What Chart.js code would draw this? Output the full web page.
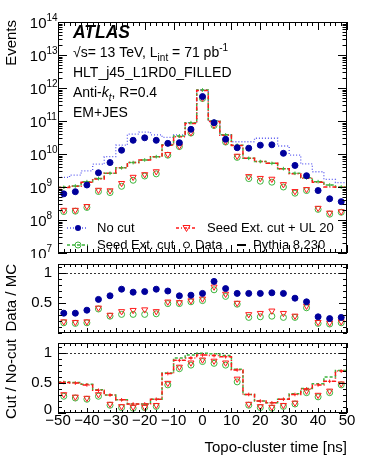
<!DOCTYPE html>
<html>
<head>
<meta charset="utf-8">
<script src="https://cdn.jsdelivr.net/npm/chart.js@4/dist/chart.umd.min.js"></script>
<style>
  body { margin: 0; background: #fff; }
  #wrap { position: relative; width: 366px; height: 474px; }
  canvas { position: absolute; left: 0; }
</style>
</head>
<body>
<div id="wrap">
  <canvas id="topChart" width="366" height="258" style="top:0px"></canvas>
  <canvas id="midChart" width="366" height="80" style="top:258px"></canvas>
  <canvas id="botChart" width="366" height="136" style="top:338px"></canvas>
</div>
<script>
'use strict';

// data -----------------------------------------------------------------------
let binEdges = [-50, -46, -42, -38, -34, -30, -26, -22, -18, -14, -10, -6, -2, 2, 6, 10, 14, 18, 22, 26, 30, 34, 38, 42, 46, 50];
let binCenters = [-48, -44, -40, -36, -32, -28, -24, -20, -16, -12, -8, -4, 0, 4, 8, 12, 16, 20, 24, 28, 32, 36, 40, 44, 48];

// events, data points
let noCutData = [6.2e8, 7.2e8, 1.15e9, 2.7e9, 5.5e9, 1.3e10, 2.6e10, 3.1e10, 2.6e10, 2.1e10, 2.2e10, 5.6e10, 5.5e11,
  8.9e10, 2.8e10, 1.55e10, 1.5e10, 1.85e10, 1.9e10, 1.05e10, 4.5e9, 2.2e9, 7.8e8, 4.4e8, 3.6e8];
let seedData = [1.8e8, 1.85e8, 2.4e8, 7.3e8, 6.8e8, 1.05e9, 1.6e9, 2.15e9, 2.5e9, 9.2e9, 1.68e10, 4.3e10, 4.8e11,
  7.3e10, 2.3e10, 7.9e9, 1.8e9, 1.5e9, 1.4e9, 1.0e9, 6.5e8, 7.8e8, 2.1e8, 1.5e8, 1.72e8];
let ul20Data = [2.0e8, 2.0e8, 2.6e8, 8.1e8, 7.8e8, 1.3e9, 2.0e9, 2.4e9, 2.95e9, 9.8e9, 1.75e10, 4.5e10, 5.0e11,
  7.6e10, 2.4e10, 8.7e9, 2.1e9, 1.85e9, 1.75e9, 1.2e9, 7.4e8, 8.5e8, 2.3e8, 1.65e8, 1.8e8];

// events, Pythia 8.230 (one value per bin)
let noCutMC = [1.95e9, 2.3e9, 3.1e9, 4.9e9, 8.3e9, 1.85e10, 4.0e10, 4.6e10, 3.8e10, 3.2e10, 3.8e10, 8.9e10, 8.7e11,
  1.02e11, 3.8e10, 2.35e10, 2.35e10, 3.0e10, 3.0e10, 1.75e10, 9.3e9, 5.0e9, 2.9e9, 1.7e9, 1.35e9];
let seedMC = [9.8e8, 1.07e9, 1.45e9, 1.8e9, 2.6e9, 3.8e9, 5.5e9, 6.6e9, 8.3e9, 1.9e10, 3.5e10, 8.9e10, 8.7e11,
  1.0e11, 3.8e10, 1.85e10, 7.4e9, 5.9e9, 5.2e9, 3.6e9, 2.6e9, 1.9e9, 1.45e9, 1.15e9, 1.0e9];
let ul20MC = [9.6e8, 1.05e9, 1.4e9, 1.75e9, 2.6e9, 3.8e9, 5.5e9, 6.6e9, 8.3e9, 1.85e10, 3.35e10, 8.4e10, 8.4e11,
  9.7e10, 3.7e10, 1.8e10, 7.4e9, 5.9e9, 5.2e9, 3.6e9, 2.5e9, 1.85e9, 1.4e9, 1.0e9, 9.8e8];

// data / MC
let noCutRatio = [0.33, 0.33, 0.38, 0.56, 0.62, 0.73, 0.68, 0.69, 0.73, 0.70, 0.62, 0.63, 0.66,
  0.86, 0.74, 0.66, 0.66, 0.66, 0.67, 0.66, 0.58, 0.52, 0.27, 0.24, 0.26];
let seedRatio = [0.17, 0.16, 0.17, 0.40, 0.28, 0.31, 0.31, 0.31, 0.32, 0.49, 0.49, 0.52, 0.54,
  0.72, 0.61, 0.48, 0.26, 0.27, 0.28, 0.26, 0.26, 0.42, 0.16, 0.15, 0.17];
let ul20Ratio = [0.19, 0.18, 0.19, 0.42, 0.30, 0.36, 0.38, 0.39, 0.36, 0.52, 0.51, 0.54, 0.57,
  0.77, 0.65, 0.50, 0.31, 0.33, 0.37, 0.33, 0.285, 0.45, 0.18, 0.17, 0.19];

// cut / no-cut
let seedFrac = [0.28, 0.25, 0.23, 0.28, 0.13, 0.09, 0.08, 0.09, 0.11, 0.47, 0.74, 0.80, 0.86,
  0.83, 0.80, 0.52, 0.13, 0.09, 0.08, 0.11, 0.15, 0.34, 0.27, 0.34, 0.47];
let ul20Frac = [0.31, 0.27, 0.25, 0.31, 0.15, 0.11, 0.10, 0.10, 0.13, 0.50, 0.77, 0.84, 0.89,
  0.87, 0.84, 0.57, 0.15, 0.11, 0.10, 0.13, 0.17, 0.37, 0.30, 0.37, 0.49];
let seedFracMC = [0.52, 0.51, 0.48, 0.39, 0.30, 0.22, 0.15, 0.15, 0.23, 0.67, 0.92, 0.97, 1.0,
  0.99, 0.96, 0.73, 0.31, 0.20, 0.17, 0.23, 0.32, 0.41, 0.49, 0.60, 0.71];
let ul20FracMC = [0.51, 0.50, 0.47, 0.38, 0.30, 0.22, 0.15, 0.15, 0.23, 0.66, 0.88, 0.92, 0.97,
  0.96, 0.94, 0.72, 0.31, 0.20, 0.17, 0.23, 0.31, 0.40, 0.47, 0.53, 0.70];

// tick labels
let xMajorTicks = [-50, -40, -30, -20, -10, 0, 10, 20, 30, 40, 50];
let xTickLabels = ['\u221250', '\u221240', '\u221230', '\u221220', '\u221210', '0', '10', '20', '30', '40', '50'];
let logDecades = [7, 8, 9, 10, 11, 12, 13, 14];
let midTicks = [0.5, 1];
let midTickLabels = ['0.5', '1'];
let botTicks = [0, 0.5, 1];
let botTickLabels = ['0', '0.5', '1'];

// styles ---------------------------------------------------------------------
const FONT = '"Liberation Sans", Arial, Helvetica, sans-serif';
const BLUE_PT = '#00009c';
const BLUE_LN = '#5a5af0';
const GREEN = '#3cb43c';
const RED = '#ff1a1a';

function steps(vals) {
  return binEdges.map((e, i) => ({ x: e, y: vals[Math.min(i, vals.length - 1)] }));
}
function points(vals) {
  return binCenters.map((c, i) => ({ x: c, y: vals[i] }));
}

function stepSet(vals, color, dash, width) {
  return { data: steps(vals), showLine: true, stepped: true, borderColor: color, borderDash: dash,
    borderWidth: width, pointRadius: 0, fill: false };
}
function pointSet(vals, style, color, fillColor, radius, rotation) {
  return { data: points(vals), showLine: false, pointStyle: style, pointRadius: radius,
    pointBorderColor: color, pointBackgroundColor: fillColor, pointBorderWidth: 1,
    pointRotation: rotation || 0 };
}

function baseOptions(pad, yOpts) {
  return {
    responsive: false,
    animation: false,
    events: [],
    layout: { padding: pad },
    plugins: { legend: { display: false }, tooltip: { enabled: false } },
    scales: {
      x: { type: 'linear', min: -50, max: 50, display: false },
      y: Object.assign({ display: false }, yOpts)
    }
  };
}

// ticks and frame, ROOT style (inside, all four sides)
function drawXTicks(chart, majorLen, minorLen) {
  let { ctx, chartArea: a, scales: { x } } = chart;
  ctx.beginPath();
  for (let v = -50; v <= 50; v += 2) {
    let px = Math.round(x.getPixelForValue(v)) + 0.5;
    let len = xMajorTicks.includes(v) ? majorLen : minorLen;
    ctx.moveTo(px, a.bottom); ctx.lineTo(px, a.bottom - len);
    ctx.moveTo(px, a.top); ctx.lineTo(px, a.top + len);
  }
  ctx.stroke();
}
function drawYTick(chart, v, len) {
  let { ctx, chartArea: a, scales: { y } } = chart;
  let py = Math.round(y.getPixelForValue(v)) + 0.5;
  ctx.moveTo(a.left, py); ctx.lineTo(a.left + len, py);
  ctx.moveTo(a.right, py); ctx.lineTo(a.right - len, py);
}
function drawFrame(chart) {
  let { ctx, chartArea: a } = chart;
  ctx.strokeRect(Math.round(a.left) + 0.5, Math.round(a.top) + 0.5,
    Math.round(a.right - a.left) - 1, Math.round(a.bottom - a.top) - 1);
}
function drawUnityLine(chart) {
  let { ctx, chartArea: a, scales: { y } } = chart;
  let py = Math.round(y.getPixelForValue(1)) + 0.5;
  ctx.save();
  ctx.setLineDash([2, 2]);
  ctx.strokeStyle = '#333';
  ctx.beginPath(); ctx.moveTo(a.left, py); ctx.lineTo(a.right, py); ctx.stroke();
  ctx.restore();
}
function drawLinearY(chart, ticks, labels) {
  let { ctx, scales: { y } } = chart;
  ctx.beginPath();
  for (let v = 0; v <= 1.15; v += 0.1) {
    let vv = Math.round(v * 10) / 10;
    drawYTick(chart, vv, ticks.includes(vv) ? 8 : 4);
  }
  ctx.stroke();
  ctx.font = '15px ' + FONT;
  ctx.textAlign = 'right';
  ctx.textBaseline = 'middle';
  ticks.forEach((t, i) => {
    let py = y.getPixelForValue(t);
    ctx.fillText(labels[i], 52, t === 0 ? py - 3 : py);
  });
}
function rotatedTitle(ctx, text, x, yTop) {
  ctx.save();
  ctx.translate(x, yTop);
  ctx.rotate(-Math.PI / 2);
  ctx.font = '15px ' + FONT;
  ctx.textAlign = 'right';
  ctx.textBaseline = 'middle';
  ctx.fillText(text, 0, 0);
  ctx.restore();
}

// draws text pieces [text, size, dy, style] one after another
function richText(ctx, x, y, parts) {
  ctx.textAlign = 'left';
  ctx.textBaseline = 'alphabetic';
  for (let p of parts) {
    ctx.font = (p[3] || '') + ' ' + p[1] + 'px ' + FONT;
    ctx.fillText(p[0], x, y + p[2]);
    x += ctx.measureText(p[0]).width;
  }
}

function marker(ctx, type, x, y, color) {
  ctx.save();
  ctx.strokeStyle = color; ctx.fillStyle = color; ctx.lineWidth = 1;
  ctx.beginPath();
  if (type === 'dot') { ctx.arc(x, y, 3, 0, 2 * Math.PI); ctx.fill(); }
  if (type === 'ring') { ctx.arc(x, y, 3, 0, 2 * Math.PI); ctx.stroke(); }
  if (type === 'tri') {
    ctx.moveTo(x - 3.5, y - 2.5); ctx.lineTo(x + 3.5, y - 2.5); ctx.lineTo(x, y + 3.5); ctx.closePath();
    ctx.stroke();
  }
  ctx.restore();
}
function legendLine(ctx, x1, x2, y, color, dash, width) {
  ctx.save();
  ctx.strokeStyle = color; ctx.setLineDash(dash); ctx.lineWidth = width;
  ctx.beginPath(); ctx.moveTo(x1, y); ctx.lineTo(x2, y); ctx.stroke();
  ctx.restore();
}

// top panel: events --------------------------------------------------------
let topPlugin = {
  id: 'topDecor',
  afterDraw(chart) {
    let { ctx, scales: { y } } = chart;
    ctx.save();
    ctx.strokeStyle = '#000'; ctx.fillStyle = '#000'; ctx.lineWidth = 1;
    drawXTicks(chart, 8, 4);
    ctx.beginPath();
    for (let d of logDecades) {
      drawYTick(chart, Math.pow(10, d), 9);
      if (d < 14) {
        for (let m = 2; m <= 9; m++) drawYTick(chart, m * Math.pow(10, d), 4.5);
      }
    }
    ctx.stroke();
    drawFrame(chart);

    // y tick labels 10^n
    for (let d of logDecades) {
      let py = y.getPixelForValue(Math.pow(10, d));
      ctx.font = '15px ' + FONT;
      ctx.textAlign = 'right'; ctx.textBaseline = 'middle';
      ctx.fillText('10', 46.5, py + 2);
      ctx.font = '10px ' + FONT;
      ctx.textAlign = 'left';
      ctx.fillText(String(d), 46.5, py - 3.5);
    }
    rotatedTitle(ctx, 'Events', 12, 20);

    // labels
    ctx.font = 'italic bold 17.5px ' + FONT;
    ctx.textAlign = 'left'; ctx.textBaseline = 'alphabetic';
    ctx.fillText('ATLAS', 73, 38);
    richText(ctx, 73, 57, [['\u221As= 13 TeV, L', 14, 0], ['int', 10, 4], [' = 71 pb', 14, 0], ['-1', 10, -6]]);
    richText(ctx, 73, 77, [['HLT_j45_L1RD0_FILLED', 14, 0]]);
    richText(ctx, 73, 97, [['Anti-', 14, 0], ['k', 14, 0, 'italic'], ['t', 10, 4, 'italic'], [', R=0.4', 14, 0]]);
    richText(ctx, 73, 117, [['EM+JES', 14, 0]]);

    // legend
    let r1 = 228, r2 = 245;
    legendLine(ctx, 67, 88, r1, BLUE_LN, [1, 2], 1.3);
    marker(ctx, 'dot', 78, r1, BLUE_PT);
    legendLine(ctx, 67, 88, r2, GREEN, [3, 2], 1.5);
    marker(ctx, 'ring', 78, r2, GREEN);
    legendLine(ctx, 176, 197, r1, RED, [3, 2, 1, 2], 1.5);
    marker(ctx, 'tri', 186.5, r1, RED);
    marker(ctx, 'ring', 186.5, r2, '#000');
    legendLine(ctx, 237, 246, r2, '#000', [], 2);
    ctx.fillStyle = '#000';
    ctx.font = '13px ' + FONT;
    ctx.textAlign = 'left'; ctx.textBaseline = 'middle';
    ctx.fillText('No cut', 97, r1);
    ctx.fillText('Seed Ext. cut', 97, r2);
    ctx.fillText('Seed Ext. cut + UL 20', 207, r1);
    ctx.fillText('Data', 195, r2);
    ctx.fillText('Pythia 8.230', 253, r2);
    ctx.restore();
  }
};

new Chart(document.getElementById('topChart'), {
  type: 'scatter',
  data: {
    datasets: [
      pointSet(noCutData, 'circle', BLUE_PT, BLUE_PT, 3),
      pointSet(ul20Data, 'triangle', RED, 'rgba(0,0,0,0)', 3.5, 180),
      pointSet(seedData, 'circle', GREEN, 'rgba(0,0,0,0)', 3),
      pointSet(seedMC, 'cross', GREEN, GREEN, 1.8),
      stepSet(ul20MC, RED, [4, 2, 1, 2], 1.5),
      stepSet(seedMC, GREEN, [3, 2], 1.5),
      stepSet(noCutMC, BLUE_LN, [1, 2], 1.3)
    ]
  },
  options: baseOptions({ left: 58, right: 19, top: 22, bottom: 3 },
    { type: 'logarithmic', min: 1e7, max: 1e14 }),
  plugins: [topPlugin]
});

// middle panel: data / MC --------------------------------------------------
let midPlugin = {
  id: 'midDecor',
  beforeDatasetsDraw(chart) { drawUnityLine(chart); },
  afterDraw(chart) {
    let ctx = chart.ctx;
    ctx.save();
    ctx.strokeStyle = '#000'; ctx.fillStyle = '#000'; ctx.lineWidth = 1;
    drawXTicks(chart, 5, 3);
    drawLinearY(chart, midTicks, midTickLabels);
    drawFrame(chart);
    rotatedTitle(ctx, 'Data / MC', 12, 6);
    ctx.restore();
  }
};

new Chart(document.getElementById('midChart'), {
  type: 'scatter',
  data: {
    datasets: [
      pointSet(noCutRatio, 'circle', BLUE_PT, BLUE_PT, 3),
      pointSet(ul20Ratio, 'triangle', RED, 'rgba(0,0,0,0)', 3.5, 180),
      pointSet(seedRatio, 'circle', GREEN, 'rgba(0,0,0,0)', 3)
    ]
  },
  options: baseOptions({ left: 58, right: 19, top: 6, bottom: 2 },
    { type: 'linear', min: 0, max: 1.15 }),
  plugins: [midPlugin]
});

// bottom panel: cut / no-cut -----------------------------------------------
let botPlugin = {
  id: 'botDecor',
  beforeDatasetsDraw(chart) { drawUnityLine(chart); },
  afterDraw(chart) {
    let { ctx, chartArea: a, scales: { x } } = chart;
    ctx.save();
    ctx.strokeStyle = '#000'; ctx.fillStyle = '#000'; ctx.lineWidth = 1;
    drawXTicks(chart, 5, 3);
    drawLinearY(chart, botTicks, botTickLabels);
    drawFrame(chart);
    ctx.font = '15px ' + FONT;
    ctx.textAlign = 'center'; ctx.textBaseline = 'middle';
    xMajorTicks.forEach((t, i) => ctx.fillText(xTickLabels[i], x.getPixelForValue(t), a.bottom + 8));
    ctx.textAlign = 'right'; ctx.textBaseline = 'alphabetic';
    ctx.fillText('Topo-cluster time [ns]', a.right, a.bottom + 39);
    rotatedTitle(ctx, 'Cut / No-cut', 12, 1);
    ctx.restore();
  }
};

new Chart(document.getElementById('botChart'), {
  type: 'scatter',
  data: {
    datasets: [
      pointSet(ul20Frac, 'triangle', RED, 'rgba(0,0,0,0)', 3.5, 180),
      pointSet(seedFrac, 'circle', GREEN, 'rgba(0,0,0,0)', 3),
      pointSet(ul20FracMC, 'cross', RED, RED, 1.8),
      stepSet(ul20FracMC, RED, [4, 2, 1, 2], 1.5),
      stepSet(seedFracMC, GREEN, [3, 2], 1.5)
    ]
  },
  options: baseOptions({ left: 58, right: 19, top: 1, bottom: 61 },
    { type: 'linear', min: 0, max: 1.17 }),
  plugins: [botPlugin]
});
</script>
</body>
</html>
